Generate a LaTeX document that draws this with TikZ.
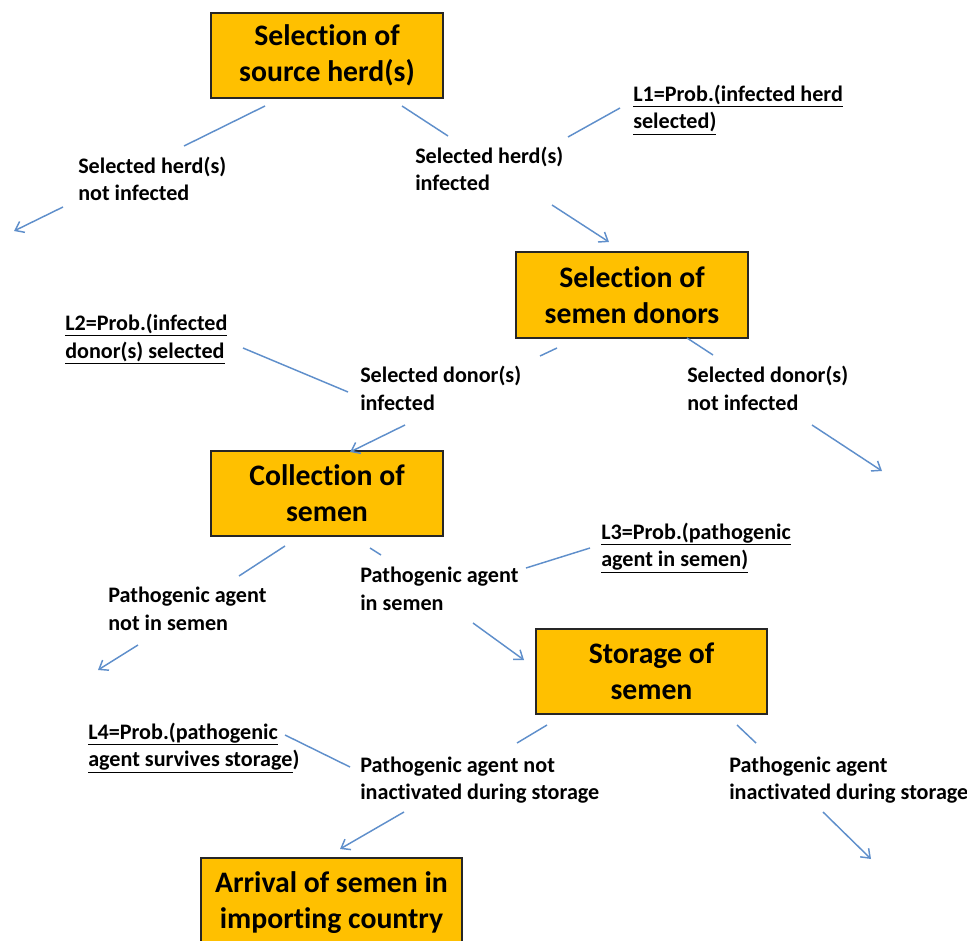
\documentclass[tikz,border=0pt]{standalone}
\usepackage{fontspec}
\setmainfont{Carlito}[Ligatures=NoCommon]
\usetikzlibrary{arrows.meta}
\definecolor{boxfill}{HTML}{FFC000}
\definecolor{linkblue}{HTML}{5F8FCB}
\tikzset{
  stagebox/.style={draw=black!85, line width=1.1pt, fill=boxfill, align=center,
    font=\fontsize{22.3}{27}\selectfont\bfseries, inner sep=0pt},
  lbl/.style={anchor=base west, align=left, inner sep=0pt,
    font=\fontsize{16.6}{20.6}\selectfont\bfseries},
  seg/.style={draw=linkblue, line width=1.1pt},
  arr/.style={seg, -{Straight Barb[length=6pt,width=9pt,line width=1.1pt]}}
}
\begin{document}
\begin{tikzpicture}[x=0.75pt,y=-0.75pt]
\useasboundingbox (0,0) rectangle (967,941);
% boxes
\node[stagebox, minimum width=174pt, minimum height=63.75pt] (b1) at (327,55.5) {Selection of\\source herd(s)};
\node[stagebox, minimum width=174pt, minimum height=64.5pt] (b2) at (632,295) {Selection of\\semen donors};
\node[stagebox, minimum width=174pt, minimum height=63.75pt] (b3) at (327,493.5) {Collection of\\semen};
\node[stagebox, minimum width=173.25pt, minimum height=63.75pt] (b4) at (651.5,671.5) {Storage of\\semen};
\node[stagebox, minimum width=195.75pt, minimum height=67.5pt] (b5) at (331.5,903) {Arrival of semen in\\importing country};
% labels (anchored at the baseline of their last line)
\node[lbl] (nh) at (78,201) {Selected herd(s)\\not infected};
\node[lbl] (ih) at (415,191) {Selected herd(s)\\infected};
\node[lbl] (l1) at (633,129) {\underline{L1=Prob.(infected herd}\\\underline{selected)}};
\node[lbl] (l2) at (65,358) {\underline{L2=Prob.(infected}\\\underline{donor(s) selected}};
\node[lbl] (id) at (360,410) {Selected donor(s)\\infected};
\node[lbl] (nd) at (687,410) {Selected donor(s)\\not infected};
\node[lbl] (l3) at (601,566.5) {\underline{L3=Prob.(pathogenic}\\\underline{agent in semen)}};
\node[lbl] (ps) at (360,610) {Pathogenic agent\\in semen};
\node[lbl] (pn) at (108,630) {Pathogenic agent\\not in semen};
\node[lbl] (l4) at (88,766.5) {\underline{L4=Prob.(pathogenic}\\\underline{agent survives storage})};
\node[lbl] (ni) at (360,799.5) {Pathogenic agent not\\inactivated during storage};
\node[lbl] (in) at (729,799.5) {Pathogenic agent\\inactivated during storage};
% connector end points
\coordinate (a1) at (265,106); \coordinate (a2) at (184,146);
\coordinate (a3) at (63,207);  \coordinate (a4) at (14,231);
\coordinate (c1) at (402,106); \coordinate (c2) at (448,136);
\coordinate (d1) at (620,108); \coordinate (d2) at (568,137);
\coordinate (e1) at (552,205); \coordinate (e2) at (609,242);
\coordinate (f1) at (557,348); \coordinate (f2) at (540,356);
\coordinate (g1) at (243,348); \coordinate (g2) at (348,392);
\coordinate (h1) at (405,425); \coordinate (h2) at (350,452);
\coordinate (i1) at (687,338); \coordinate (i2) at (713,355);
\coordinate (j1) at (812,425); \coordinate (j2) at (882,471);
\coordinate (k1) at (285,546); \coordinate (k2) at (239,576);
\coordinate (m1) at (138,645); \coordinate (m2) at (98,670);
\coordinate (n1) at (370,548); \coordinate (n2) at (381,555);
\coordinate (o1) at (590,548); \coordinate (o2) at (526,568);
\coordinate (p1) at (473,623); \coordinate (p2) at (524,660);
\coordinate (q1) at (547,725); \coordinate (q2) at (517,743);
\coordinate (r1) at (737,725); \coordinate (r2) at (756,743);
\coordinate (s1) at (285,735); \coordinate (s2) at (350,767);
\coordinate (t1) at (404,812); \coordinate (t2) at (340,849);
\coordinate (u1) at (823,812); \coordinate (u2) at (871,859);
% connectors
\draw[seg] (a1) -- (a2);
\draw[arr] (a3) -- (a4);
\draw[seg] (c1) -- (c2);
\draw[seg] (d1) -- (d2);
\draw[arr] (e1) -- (e2);
\draw[seg] (f1) -- (f2);
\draw[seg] (g1) -- (g2);
\draw[arr] (h1) -- (h2);
\draw[seg] (i1) -- (i2);
\draw[arr] (j1) -- (j2);
\draw[seg] (k1) -- (k2);
\draw[arr] (m1) -- (m2);
\draw[seg] (n1) -- (n2);
\draw[seg] (o1) -- (o2);
\draw[arr] (p1) -- (p2);
\draw[seg] (q1) -- (q2);
\draw[seg] (r1) -- (r2);
\draw[seg] (s1) -- (s2);
\draw[arr] (t1) -- (t2);
\draw[arr] (u1) -- (u2);
\end{tikzpicture}
\end{document}
